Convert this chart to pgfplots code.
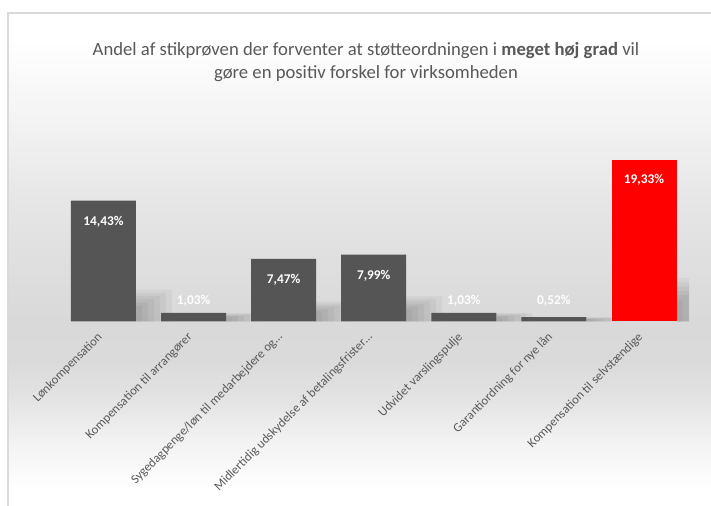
\documentclass[border=0pt]{standalone}
\usepackage{fontspec}
\setmainfont{Carlito}
\usepackage{pgfplots}
\pgfplotsset{compat=1.18}
\definecolor{txt}{HTML}{595959}
\definecolor{barg}{HTML}{555555}
\definecolor{bord}{HTML}{D9D9D9}
\definecolor{bgA}{HTML}{F2F2F2}
\definecolor{bgB}{HTML}{E3E3E3}
\definecolor{bgC}{HTML}{DADADA}
\definecolor{bgD}{HTML}{D9D9D9}
\definecolor{bgE}{HTML}{DFDFDF}
\definecolor{bgF}{HTML}{E6E6E6}
\definecolor{bgG}{HTML}{F3F3F3}
\pgfdeclareverticalshading{bgshade}{100bp}{color(0bp)=(white); color(26.6bp)=(white); color(31.7bp)=(bgA); color(36bp)=(bgB); color(39.8bp)=(bgC); color(43.9bp)=(bgD); color(50bp)=(bgE); color(56bp)=(bgF); color(64.1bp)=(bgG); color(72.3bp)=(white); color(100bp)=(white)}
\pgfplotsset{shadowbar/.style={ybar, fill=black, draw=none, fill opacity=0.04}}
\begin{document}
\begin{tikzpicture}[x=0.75pt,y=0.75pt]
\fill[white] (0,0) rectangle (711,506);
\shade[shading=bgshade] (9,0) rectangle (711,492);
\draw[bord, line width=1.5pt] (8,0) -- (8,493) -- (711,493);
\node[align=center, font=\fontsize{14}{17.25}\selectfont, text=txt, inner sep=0pt] at (366,444)
  {Andel af stikprøven der forventer at støtteordningen i \textbf{meget høj grad} vil\\gøre en positiv forskel for virksomheden};
\begin{axis}[
  at={(43.8pt,138.375pt)}, anchor=south west,
  scale only axis, width=473pt, height=125.55pt,
  xmin=-0.5, xmax=6.5, ymin=0, ymax=20,
  axis line style={draw=none}, tick style={draw=none},
  ytick=\empty,
  xtick={0,1,2,3,4,5,6},
  xticklabels={Lønkompensation, Kompensation til arrangører, Sygedagpenge/løn til medarbejdere og…, Midlertidig udskydelse af betalingsfrister…, Udvidet varslingspulje, Garantiordning for nye lån, Kompensation til selvstændige},
  major tick length=0pt,
  xticklabel style={font=\fontsize{9.5}{11}\selectfont, text=txt, inner sep=1pt, xshift=-1.5pt, yshift=-9.5pt, rotate=45, anchor=east},
  bar width=48.75pt,
  /pgf/number format/assume math mode=true,
  clip=true,
]
% soft shadows to the right of the bars
\addplot[shadowbar, bar shift=37.875pt, bar width=27pt]
  coordinates {(0,3.8)(1,1.0)(2,2.4)(3,3.0)(4,1.0)(5,0.5)(6,5.2)};
\addplot[shadowbar, bar shift=35.625pt, bar width=22.5pt]
  coordinates {(0,3.42)(1,0.9)(2,2.16)(3,2.7)(4,0.9)(5,0.45)(6,4.68)};
\addplot[shadowbar, bar shift=33.375pt, bar width=18pt]
  coordinates {(0,3.04)(1,0.8)(2,1.92)(3,2.4)(4,0.8)(5,0.4)(6,4.16)};
\addplot[shadowbar, bar shift=31.125pt, bar width=13.5pt]
  coordinates {(0,2.66)(1,0.7)(2,1.68)(3,2.1)(4,0.7)(5,0.35)(6,3.64)};
\addplot[shadowbar, bar shift=28.875pt, bar width=9pt]
  coordinates {(0,2.28)(1,0.6)(2,1.44)(3,1.8)(4,0.6)(5,0.3)(6,3.12)};
\addplot[shadowbar, bar shift=26.625pt, bar width=4.5pt]
  coordinates {(0,1.9)(1,0.5)(2,1.2)(3,1.5)(4,0.5)(5,0.25)(6,2.6)};
% bars
\addplot[ybar, bar shift=0pt, fill=barg, draw=none,
  visualization depends on={rawy \as \ry},
  nodes near coords={\pgfmathprintnumber[fixed,fixed zerofill,precision=2,use comma]{\pgfplotspointmeta}\%},
  nodes near coords style={anchor=center, font=\bfseries\fontsize{10}{12}\selectfont, text=white,
    yshift={ifthenelse(\ry>4,-15.75,(2.45-\ry)*6.2775)}}]
  coordinates {(0,14.43)(1,1.03)(2,7.47)(3,7.99)(4,1.03)(5,0.52)};
\addplot[ybar, bar shift=0pt, fill=red, draw=none,
  visualization depends on={rawy \as \ry},
  nodes near coords={\pgfmathprintnumber[fixed,fixed zerofill,precision=2,use comma]{\pgfplotspointmeta}\%},
  nodes near coords style={anchor=center, font=\bfseries\fontsize{10}{12}\selectfont, text=white,
    yshift={ifthenelse(\ry>4,-15,(2.45-\ry)*6.2775)}}]
  coordinates {(6,19.33)};
\end{axis}
\pgfresetboundingbox
\path[use as bounding box] (0,0) rectangle (711,506);
\end{tikzpicture}
\end{document}
